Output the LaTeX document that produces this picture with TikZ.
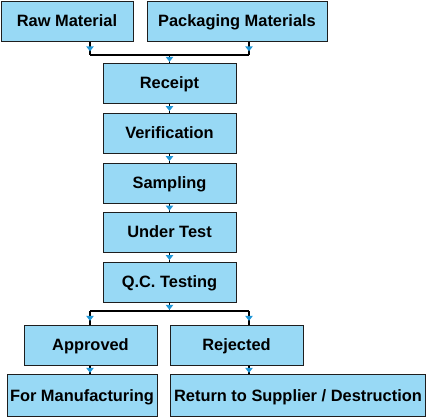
\documentclass[tikz,border=0pt]{standalone}
\usepackage{fontspec}
\setmainfont{Liberation Sans}
\usetikzlibrary{shapes.geometric}
\definecolor{boxfill}{RGB}{152,217,245}
\definecolor{arrowblue}{RGB}{30,150,215}
\definecolor{boxline}{RGB}{30,30,30}
\tikzset{
  stepbox/.style={draw=boxline,fill=boxfill,line width=1pt,inner sep=0pt,
    minimum height=40pt,text height=11.7pt,text depth=0pt,
    font=\fontsize{16.4pt}{18pt}\selectfont\bfseries},
  link/.style={draw=black,line width=1.2pt},
  tipmark/.style={shape=isosceles triangle,isosceles triangle apex angle=75,
    shape border rotate=270,fill=arrowblue,draw=none,inner sep=0pt,minimum size=5pt}
}
\begin{document}
\begin{tikzpicture}[x=1pt,y=1pt]
\useasboundingbox (0,0) rectangle (426,-418);
\node[stepbox,minimum width=132pt] (raw) at (67,-21) {Raw Material};
\node[stepbox,minimum width=180pt] (pack) at (237,-21) {Packaging Materials};
\node[stepbox,minimum width=133pt] (receipt) at (169.5,-83) {Receipt};
\node[stepbox,minimum width=133pt] (verif) at (169.5,-133) {Verification};
\node[stepbox,minimum width=133pt] (samp) at (169.5,-183) {Sampling};
\node[stepbox,minimum width=133pt] (under) at (169.5,-232) {Under Test};
\node[stepbox,minimum width=133pt] (qc) at (169.5,-282) {Q.C. Testing};
\node[stepbox,minimum width=133pt] (appr) at (90.5,-345) {Approved};
\node[stepbox,minimum width=133pt] (rej) at (236.5,-345) {Rejected};
\node[stepbox,minimum width=150pt,minimum height=42pt] (manuf) at (82,-395.5) {For Manufacturing};
\node[stepbox,minimum width=255pt,minimum height=42pt] (ret) at (298,-395.5) {Return to Supplier / Destruction};
\coordinate (jL) at (90,-55);
\coordinate (jR) at (249,-55);
\coordinate (jC) at (169.5,-55);
\coordinate (kL) at (90,-311);
\coordinate (kR) at (249,-311);
\coordinate (kC) at (169.5,-311);
\draw[link] (raw.south -| jL) -- node[tipmark]{} (jL);
\draw[link] (pack.south -| jR) -- node[tipmark]{} (jR);
\draw[link] (jL) -- (jR);
\draw[link] (jC) -- node[tipmark]{} (receipt.north);
\draw[link] (receipt.south) -- node[tipmark]{} (verif.north);
\draw[link] (verif.south) -- node[tipmark]{} (samp.north);
\draw[link] (samp.south) -- node[tipmark]{} (under.north);
\draw[link] (under.south) -- node[tipmark]{} (qc.north);
\draw[link] (qc.south) -- node[tipmark]{} (kC);
\draw[link] (kL) -- (kR);
\draw[link] (kL) -- node[tipmark]{} (appr.north -| kL);
\draw[link] (kR) -- node[tipmark]{} (rej.north -| kR);
\draw[link] (appr.south -| kL) -- node[tipmark]{} (manuf.north -| kL);
\draw[link] (rej.south -| kR) -- node[tipmark]{} (ret.north -| kR);
\end{tikzpicture}
\end{document}
